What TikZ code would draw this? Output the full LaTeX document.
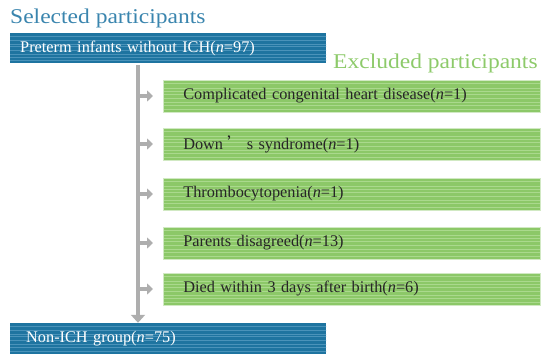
\documentclass[tikz,border=0pt]{standalone}
\usepackage{fontspec}
\setmainfont{LiberationSerif}[Extension=.ttf, UprightFont=*-Regular, ItalicFont=*-Italic, BoldFont=*-Bold, BoldItalicFont=*-BoldItalic]
\newfontfamily\wideserif{LiberationSerif}[Extension=.ttf, UprightFont=*-Regular, FakeStretch=1.12]
\newfontfamily\cjk{Noto Sans CJK SC}
\usetikzlibrary{arrows.meta,calc}
\definecolor{barblue}{HTML}{1E74A0}
\definecolor{stripeblue}{HTML}{4A93BA}
\definecolor{titleblue}{HTML}{3A85AE}
\definecolor{boxgreen}{HTML}{8CC868}
\definecolor{stripegreen}{HTML}{AAD98D}
\definecolor{titlegreen}{HTML}{8DCA6A}
\definecolor{arrowgray}{HTML}{AEAEAE}
\tikzset{
  stripes/.style={path picture={
    \foreach \k in {0.08,0.2,0.3,0.42,0.55,0.63,0.75,0.88}{
      \draw[#1,line width=1pt] ($(path picture bounding box.south west)!\k!(path picture bounding box.north west)$) -- ++(700,0);
    }}},
  bluebar/.style={anchor=west, fill=barblue, stripes=stripeblue, text=white,
    minimum width=316, text width=296, minimum height=30, inner xsep=10, inner ysep=0,
    font=\fontsize{16.3}{18}\selectfont, align=left},
  greenbox/.style={anchor=west, fill=boxgreen, stripes=stripegreen, draw=boxgreen!40,
    line width=0.6pt, text=black!85, minimum width=377, minimum height=32,
    text width=337, inner xsep=20, inner ysep=0, align=left,
    font=\fontsize{16.3}{18}\selectfont},
  title/.style={anchor=base west, inner sep=0, font=\wideserif\fontsize{21}{24}\selectfont},
  garrow/.style={draw=arrowgray, line width=3.2, -{Triangle[width=11,length=6]}}
}
\begin{document}
\begin{tikzpicture}[x=1pt,y=-1pt]
\useasboundingbox (0,0) rectangle (542,354);
\node[title, text=titleblue] (sel) at (10,23) {Selected participants};
\node[title, text=titlegreen] (exc) at (333,68) {Excluded participants};
\node[bluebar] (top) at (10,48) {Preterm infants without ICH(\textit{n}=97)};
\node[bluebar, minimum height=31, inner xsep=16, text width=284] (bot) at (10,338.5) {Non-ICH group(\textit{n}=75)};
\node[greenbox] (b1) at (163,96) {Complicated congenital heart disease(\textit{n}=1)};
\node[greenbox] (b2) at (163,144) {Down\hspace{0.25em}{\cjk ’}\hspace{0.2em}s syndrome(\textit{n}=1)};
\node[greenbox] (b3) at (163,194) {Thrombocytopenia(\textit{n}=1)};
\node[greenbox] (b4) at (163,243) {Parents disagreed(\textit{n}=13)};
\node[greenbox] (b5) at (163,289) {Died within 3 days after birth(\textit{n}=6)};
\coordinate (vtop) at (138,65);
\draw[garrow, -{Triangle[width=14,length=8]}] (vtop) -- (vtop |- bot.north) ;
\foreach \b in {b1,b2,b3,b4,b5}{
  \draw[garrow, shorten >=10] (vtop |- \b.west) -- (\b.west);
}
\end{tikzpicture}
\end{document}
